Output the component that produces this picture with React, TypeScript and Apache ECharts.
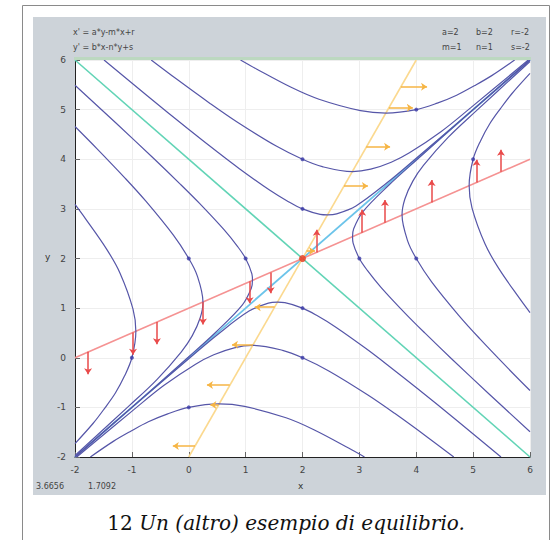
import React, { useEffect, useRef } from "react";
import * as echarts from "echarts";

// ---- text content ----
const headerLines = ["x' = a*y-m*x+r", "y' = b*x-n*y+s"];
const paramRow1 = ["a=2", "b=2", "r=-2"];
const paramRow2 = ["m=1", "n=1", "s=-2"];
const cursorValues = ["3.6656", "1.7092"];
const xAxisName = "x";
const yAxisName = "y";
const captionNumber = "12";
const captionText = "Un (altro) esempio di equilibrio.";

// ---- axis range ----
const axisMin = -2;
const axisMax = 6;
const axisStep = 1;

// ---- equilibrium and initial points of the trajectories ----
const equilibrium = [[2, 2]];
const startPoints = [
  [2, 3], [2, 4], [4, 5],
  [3, 2], [4, 2], [5, 4],
  [1, 2], [0, 2], [-1, 0],
  [2, 1], [2, 0], [0, -1],
];

// ---- separatrices and nullclines ----
const unstableLine = [[-2, -2], [6, 6]];
const stableLine = [[-2, 6], [6, -2]];
const xNullcline = [[-2, 0], [6, 4]];
const yNullcline = [[0, -2], [4, 6]];

// ---- nullcline arrows: [x, yFrom, yTo] (vertical) and [y, xFrom, xTo] (horizontal) ----
const xNullArrows = [
  [-1.77, 0.12, -0.33], [-0.98, 0.51, 0.06], [-0.56, 0.72, 0.27], [0.25, 1.12, 0.67],
  [1.07, 1.54, 1.1], [1.44, 1.72, 1.3], [2.25, 2.12, 2.58], [3.05, 2.52, 2.98],
  [3.45, 2.72, 3.18], [4.27, 3.13, 3.58], [5.06, 3.53, 3.99], [5.49, 3.75, 4.19],
];
const yNullArrows = [
  [5.46, 3.73, 4.19], [5.04, 3.52, 3.94], [4.25, 3.12, 3.54], [3.46, 2.73, 3.15],
  [2.15, 2.07, 2.22], [1.02, 1.51, 1.16], [0.26, 1.13, 0.76], [-0.55, 0.72, 0.32],
  [-0.95, 0.52, 0.38], [-1.78, 0.11, -0.28],
];

// ---- trajectories (top region) ----
const trajTop1 = [[-1.49, 6], [-0.73, 5.28], [-0.02, 4.62], [0.5, 4.15], [0.89, 3.81], [1.42, 3.38], [1.76, 3.14], [2, 3], [2.31, 2.89], [2.44, 2.88], [2.6, 2.9], [2.94, 3.06], [3.48, 3.52], [3.99, 4.01], [5, 5], [6, 6]];
const trajTop2 = [[-0.66, 6], [-0.22, 5.62], [0.38, 5.12], [0.85, 4.75], [1.53, 4.27], [2, 4], [2.35, 3.85], [2.88, 3.75], [3.2, 3.8], [3.56, 3.94], [3.88, 4.13], [4.44, 4.56], [4.96, 5.04], [5.97, 6]];
const trajTop3 = [[0.91, 6], [1.19, 5.82], [1.8, 5.45], [2.29, 5.21], [3.02, 4.98], [3.47, 4.93], [4, 5], [4.37, 5.13], [4.71, 5.29], [5.02, 5.48], [5.32, 5.68], [5.73, 6]];
// ---- right region ----
const trajRight1 = [[6, -1.49], [5.28, -0.73], [4.62, -0.02], [4.15, 0.5], [3.81, 0.89], [3.38, 1.42], [3.14, 1.76], [3, 2], [2.89, 2.31], [2.88, 2.44], [2.9, 2.6], [3.06, 2.94], [3.52, 3.48], [4.01, 3.99], [5, 5], [6, 6]];
const trajRight2 = [[6, -0.66], [5.62, -0.22], [5.12, 0.38], [4.75, 0.85], [4.27, 1.53], [4, 2], [3.85, 2.35], [3.75, 2.88], [3.8, 3.2], [3.94, 3.56], [4.13, 3.88], [4.56, 4.44], [5.04, 4.96], [6, 5.97]];
const trajRight3 = [[6, 0.91], [5.82, 1.19], [5.45, 1.8], [5.21, 2.29], [4.98, 3.02], [4.93, 3.47], [5, 4], [5.13, 4.37], [5.29, 4.71], [5.48, 5.02], [5.68, 5.32], [6, 5.73]];
// ---- bottom region ----
const trajBottom1 = [[5.49, -2], [4.73, -1.28], [4.02, -0.62], [3.5, -0.15], [3.11, 0.19], [2.58, 0.62], [2.24, 0.86], [2, 1], [1.69, 1.11], [1.56, 1.12], [1.4, 1.1], [1.06, 0.94], [0.52, 0.48], [0.01, -0.01], [-1, -1], [-2, -2]];
const trajBottom2 = [[4.66, -2], [4.22, -1.62], [3.62, -1.12], [3.15, -0.75], [2.47, -0.27], [2, 0], [1.65, 0.15], [1.12, 0.25], [0.8, 0.2], [0.44, 0.06], [0.12, -0.13], [-0.44, -0.56], [-0.96, -1.04], [-1.97, -2]];
const trajBottom3 = [[3.09, -2], [2.81, -1.82], [2.2, -1.45], [1.71, -1.21], [0.98, -0.98], [0.53, -0.93], [0, -1], [-0.37, -1.13], [-0.71, -1.29], [-1.02, -1.48], [-1.32, -1.68], [-1.73, -2]];
// ---- left region ----
const trajLeft1 = [[-2, 5.49], [-1.28, 4.73], [-0.62, 4.02], [-0.15, 3.5], [0.19, 3.11], [0.62, 2.58], [0.86, 2.24], [1, 2], [1.11, 1.69], [1.12, 1.56], [1.1, 1.4], [0.94, 1.06], [0.48, 0.52], [-0.01, 0.01], [-1, -1], [-2, -2]];
const trajLeft2 = [[-2, 4.66], [-1.62, 4.22], [-1.12, 3.62], [-0.75, 3.15], [-0.27, 2.47], [0, 2], [0.15, 1.65], [0.25, 1.12], [0.2, 0.8], [0.06, 0.44], [-0.13, 0.12], [-0.56, -0.44], [-1.04, -0.96], [-2, -1.97]];
const trajLeft3 = [[-2, 3.09], [-1.82, 2.81], [-1.45, 2.2], [-1.21, 1.71], [-0.98, 0.98], [-0.93, 0.53], [-1, 0], [-1.13, -0.37], [-1.29, -0.71], [-1.48, -1.02], [-1.68, -1.32], [-2, -1.73]];

const trajectories = [
  trajTop1, trajTop2, trajTop3,
  trajRight1, trajRight2, trajRight3,
  trajBottom1, trajBottom2, trajBottom3,
  trajLeft1, trajLeft2, trajLeft3,
];

const SMALL_FONT = "DejaVu Sans";

export default function App() {
  const ref = useRef<HTMLDivElement>(null);

  useEffect(() => {
    if (!ref.current) return;
    const chart = echarts.init(ref.current, undefined, { renderer: "svg" });

    const trajColor = "#5656a8";

    const series: any[] = [];
    series.push({
      type: "line", data: stableLine, symbol: "none", silent: true,
      lineStyle: { color: "#62d4b6", width: 1.6 }, z: 2,
    });
    series.push({
      type: "line", data: unstableLine, symbol: "none", silent: true,
      lineStyle: { color: "#6cc4ea", width: 1.8 }, z: 2,
    });
    series.push({
      type: "line", data: yNullcline, symbol: "none", silent: true,
      lineStyle: { color: "#fbd98f", width: 1.6 }, z: 2,
    });
    series.push({
      type: "line", data: xNullcline, symbol: "none", silent: true,
      lineStyle: { color: "#f59292", width: 1.6 }, z: 2,
    });
    trajectories.forEach((t) => {
      series.push({
        type: "line", data: t, symbol: "none", smooth: 0.35, silent: true,
        lineStyle: { color: trajColor, width: 1.2 }, z: 3,
      });
    });
    series.push({
      type: "lines", coordinateSystem: "cartesian2d", silent: true,
      symbol: ["none", "arrow"], symbolSize: 6,
      lineStyle: { color: "#e94a4a", width: 1.5, opacity: 1, curveness: 0 },
      data: xNullArrows.map(([x, a, b]) => ({ coords: [[x, a], [x, b]] })),
      z: 4,
    });
    series.push({
      type: "lines", coordinateSystem: "cartesian2d", silent: true,
      symbol: ["none", "arrow"], symbolSize: 6,
      lineStyle: { color: "#f6b544", width: 1.5, opacity: 1, curveness: 0 },
      data: yNullArrows.map(([y, a, b]) => ({ coords: [[a, y], [b, y]] })),
      z: 4,
    });
    series.push({
      type: "scatter", data: startPoints, symbol: "circle", symbolSize: 4,
      itemStyle: { color: "#3a3aa6" }, silent: true, z: 5,
    });
    series.push({
      type: "scatter", data: equilibrium, symbol: "circle", symbolSize: 7,
      itemStyle: { color: "#e8381e" }, silent: true, z: 6,
    });

    const axisCommon = {
      type: "value",
      min: axisMin,
      max: axisMax,
      interval: axisStep,
      axisLine: { show: true, onZero: false, lineStyle: { color: "#222", width: 1 } },
      axisTick: { show: true, inside: true, length: 5, lineStyle: { color: "#666" } },
      splitLine: { show: true, lineStyle: { color: "#eeeeee", width: 1 } },
    };

    chart.setOption({
      animation: false,
      backgroundColor: "#ffffff",
      grid: { left: 75, top: 60, right: 30, bottom: 83, containLabel: false },
      xAxis: {
        ...axisCommon,
        axisLabel: { fontSize: 9, color: "#444", margin: 8, fontFamily: SMALL_FONT },
      },
      yAxis: {
        ...axisCommon,
        axisLabel: { fontSize: 9, color: "#444", margin: 9, fontFamily: SMALL_FONT },
      },
      graphic: [
        {
          type: "rect", z: -30, silent: true,
          shape: { x: 22.5, y: 5.5, width: 527, height: 560 },
          style: { fill: "#ffffff", stroke: "#8a8a8a", lineWidth: 1 },
        },
        {
          type: "rect", z: -20, silent: true,
          shape: { x: 33, y: 17, width: 513, height: 478 },
          style: { fill: "#cdd3d9" },
        },
        {
          type: "rect", z: -10, silent: true,
          shape: { x: 75, y: 60, width: 455, height: 397 },
          style: { fill: "#ffffff" },
        },
        {
          type: "line", z: 10, silent: true,
          shape: { x1: 74, y1: 58.5, x2: 531, y2: 58.5 },
          style: { stroke: "#bcd8c0", lineWidth: 3 },
        },
        {
          type: "text", left: 73, top: 28, silent: true,
          style: { text: headerLines[0], font: `8px "${SMALL_FONT}"`, fill: "#444" },
        },
        {
          type: "text", left: 73, top: 43, silent: true,
          style: { text: headerLines[1], font: `8px "${SMALL_FONT}"`, fill: "#444" },
        },
        ...paramRow1.map((t, i) => ({
          type: "text", left: [442, 476, 511][i], top: 28, silent: true,
          style: { text: t, font: `8px "${SMALL_FONT}"`, fill: "#444" },
        })),
        ...paramRow2.map((t, i) => ({
          type: "text", left: [442, 476, 511][i], top: 43, silent: true,
          style: { text: t, font: `8px "${SMALL_FONT}"`, fill: "#444" },
        })),
        {
          type: "text", left: 36, top: 482, silent: true,
          style: { text: cursorValues[0], font: `8px "${SMALL_FONT}"`, fill: "#444" },
        },
        {
          type: "text", left: 88, top: 482, silent: true,
          style: { text: cursorValues[1], font: `8px "${SMALL_FONT}"`, fill: "#444" },
        },
        {
          type: "text", left: 298, top: 481, silent: true,
          style: { text: xAxisName, font: `9px "${SMALL_FONT}"`, fill: "#333" },
        },
        {
          type: "text", left: 45, top: 252, silent: true,
          style: { text: yAxisName, font: `9px "${SMALL_FONT}"`, fill: "#333" },
        },
        {
          type: "text", x: 286, y: 523, silent: true,
          style: {
            text: `{n|${captionNumber}}  {i|${captionText}}`,
            align: "center", verticalAlign: "middle",
            rich: {
              n: { font: `20px "DejaVu Serif"`, fill: "#111" },
              i: { font: `italic 20px "DejaVu Serif"`, fill: "#111" },
            },
          },
        },
      ],
      series,
    });

    return () => chart.dispose();
  }, []);

  return (
    <div
      ref={ref}
      style={{ position: "absolute", left: 0, top: 0, width: 560, height: 540 }}
    />
  );
}
